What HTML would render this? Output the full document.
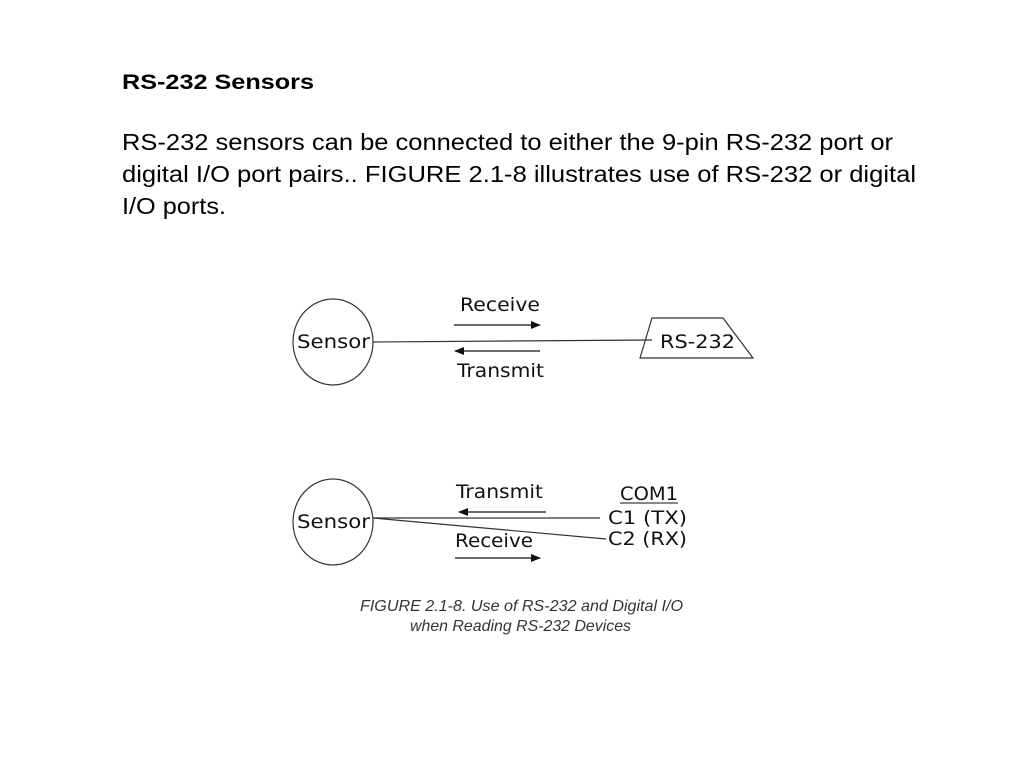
<!DOCTYPE html>
<html><head><style>
body{margin:0;background:#fff;width:1024px;height:768px;overflow:hidden}
svg{display:block}
</style></head><body>
<svg width="1024" height="768" xmlns="http://www.w3.org/2000/svg">
<defs><marker id="ah" markerWidth="10" markerHeight="8" refX="9" refY="4" orient="auto" markerUnits="userSpaceOnUse"><path d="M0,0 L10,4 L0,8 z" fill="#111"/></marker></defs>
<g font-family="Liberation Sans, sans-serif" fill="#000">
<text x="122" y="89" font-size="21" font-weight="bold" textLength="192" lengthAdjust="spacingAndGlyphs">RS-232 Sensors</text>
<text x="122" y="150" font-size="23" textLength="771" lengthAdjust="spacingAndGlyphs">RS-232 sensors can be connected to either the 9-pin RS-232 port or</text>
<text x="122" y="182" font-size="23" textLength="794" lengthAdjust="spacingAndGlyphs">digital I/O port pairs.. FIGURE 2.1-8 illustrates use of RS-232 or digital</text>
<text x="122" y="214" font-size="23" textLength="104" lengthAdjust="spacingAndGlyphs">I/O ports.</text>
</g>
<g stroke="#333" fill="none" stroke-width="1.2">
<ellipse cx="333" cy="342" rx="40" ry="43"/>
<line x1="373" y1="342" x2="652" y2="340"/>
<polygon points="652,318 723,318 753,358 640,358"/>
<ellipse cx="333" cy="522" rx="40" ry="43"/>
<line x1="373" y1="518" x2="600" y2="518"/>
<line x1="373" y1="518" x2="606" y2="539"/>
</g>
<g stroke="#111" stroke-width="1.3">
<line x1="454" y1="325" x2="540" y2="325" marker-end="url(#ah)"/>
<line x1="540" y1="351" x2="455" y2="351" marker-end="url(#ah)"/>
<line x1="546" y1="512" x2="459" y2="512" marker-end="url(#ah)"/>
<line x1="455" y1="558" x2="540" y2="558" marker-end="url(#ah)"/>
</g>
<g font-family="DejaVu Sans, sans-serif" font-size="19" fill="#111" lengthAdjust="spacingAndGlyphs">
<text x="460" y="311" textLength="80" lengthAdjust="spacingAndGlyphs">Receive</text>
<text x="457" y="377" textLength="87" lengthAdjust="spacingAndGlyphs">Transmit</text>
<text x="660" y="348" textLength="75" lengthAdjust="spacingAndGlyphs">RS-232</text>
<text x="297" y="348" textLength="73" lengthAdjust="spacingAndGlyphs">Sensor</text>
<text x="297" y="528" textLength="73" lengthAdjust="spacingAndGlyphs">Sensor</text>
<text x="456" y="498" textLength="87" lengthAdjust="spacingAndGlyphs">Transmit</text>
<text x="455" y="547" textLength="78" lengthAdjust="spacingAndGlyphs">Receive</text>
<text x="620" y="500" textLength="58" lengthAdjust="spacingAndGlyphs">COM1</text>
<text x="608" y="524" textLength="79" lengthAdjust="spacingAndGlyphs">C1 (TX)</text>
<text x="608" y="545" textLength="79" lengthAdjust="spacingAndGlyphs">C2 (RX)</text>
</g>
<line x1="620" y1="503" x2="678" y2="503" stroke="#111" stroke-width="1"/>
<g font-family="Liberation Sans, sans-serif" font-style="italic" font-size="16" fill="#333">
<text x="360" y="611" textLength="323" lengthAdjust="spacingAndGlyphs">FIGURE 2.1-8.  Use of RS-232 and Digital I/O</text>
<text x="410" y="631" textLength="221" lengthAdjust="spacingAndGlyphs">when Reading RS-232 Devices</text>
</g>
</svg>
</body></html>
